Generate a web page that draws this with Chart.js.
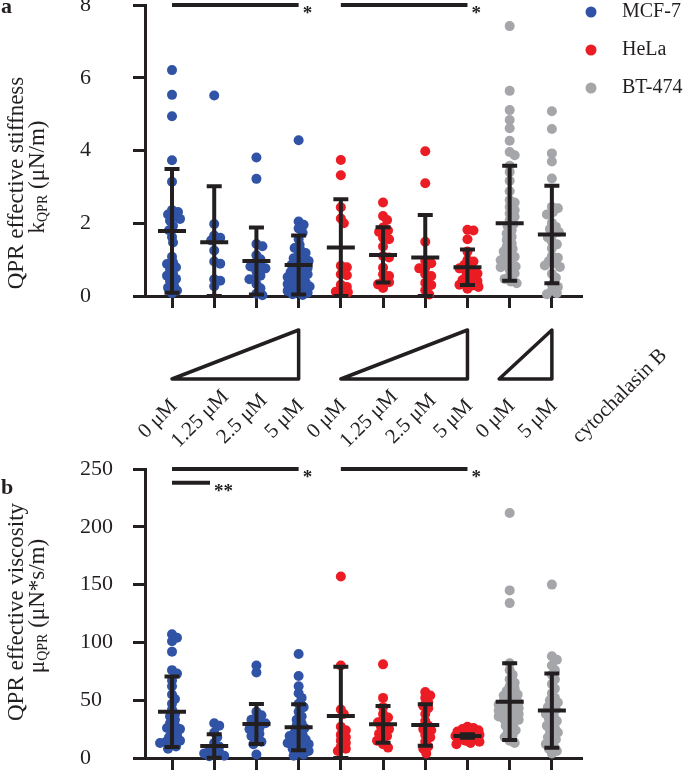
<!DOCTYPE html>
<html>
<head>
<meta charset="utf-8">
<script src="https://cdn.jsdelivr.net/npm/chart.js@4.4.0/dist/chart.umd.min.js"></script>
<style>
  body { margin: 0; background: #fff; }
  #wrap { position: relative; width: 685px; height: 771px; }
  canvas { position: absolute; left: 0; }
  #stiff { top: 0; width: 685px; height: 460px; }
  #visc { top: 460px; width: 685px; height: 311px; }
</style>
</head>
<body>
<div id="wrap">
  <canvas id="stiff" width="685" height="460"></canvas>
  <canvas id="visc" width="685" height="311"></canvas>
</div>
<script>
// groups along the x axis, left to right
const categories = ['0 μM', '1.25 μM', '2.5 μM', '5 μM', '0 μM', '1.25 μM', '2.5 μM', '5 μM', '0 μM', '5 μM'];
const cellLines = ['MCF-7', 'HeLa', 'BT-474'];
const groupLine = [0, 0, 0, 0, 1, 1, 1, 1, 2, 2];

// panel a: effective stiffness k_QPR (uN/m), one array per concentration
const stiffMCF7 = [
  [6.21, 5.53, 4.94, 3.73, 3.14, 2.36, 2.31, 2.24, 2.18, 2.12, 2.07, 1.93, 1.81, 1.62, 1.47, 1.08, 0.93, 0.88, 0.79, 0.74, 0.61, 0.56, 0.47, 0.41, 0.29, 0.23, 0.15, 0.08],
  [5.51, 1.98, 1.66, 1.6, 1.53, 1.25, 0.95, 0.89, 0.46, 0.42, 0.27],
  [3.81, 3.22, 1.43, 1.37, 1.12, 1.01, 0.91, 0.84, 0.81, 0.76, 0.68, 0.56, 0.49, 0.46, 0.33, 0.21, 0.06, 0.02],
  [4.28, 2.05, 1.96, 1.86, 1.74, 1.56, 1.41, 1.32, 1.26, 1.18, 1.11, 1.04, 1.0, 0.96, 0.91, 0.86, 0.8, 0.77, 0.71, 0.66, 0.61, 0.6, 0.55, 0.52, 0.45, 0.41, 0.38, 0.33, 0.29, 0.26, 0.21, 0.19, 0.14, 0.1, 0.09, 0.05, 0.03]
];
const stiffHeLa = [
  [3.74, 3.32, 2.44, 2.13, 2.0, 0.83, 0.79, 0.6, 0.57, 0.31, 0.25, 0.16, 0.12, 0.1],
  [2.57, 2.2, 2.09, 1.88, 1.8, 1.76, 1.6, 1.56, 1.36, 1.1, 1.06, 0.78, 0.6, 0.55, 0.4, 0.38, 0.32, 0.22],
  [3.98, 3.1, 1.49, 0.96, 0.9, 0.78, 0.76, 0.6, 0.55, 0.36, 0.3, 0.16, 0.04],
  [1.82, 1.8, 1.56, 1.22, 0.99, 0.95, 0.86, 0.81, 0.76, 0.71, 0.66, 0.62, 0.56, 0.5, 0.44, 0.41, 0.36, 0.31, 0.29, 0.25, 0.2]
];
const stiffBT474 = [
  [7.42, 5.64, 5.11, 4.84, 4.61, 4.27, 3.96, 3.87, 3.58, 3.41, 3.17, 2.88, 2.64, 2.57, 2.45, 2.36, 2.27, 2.18, 2.09, 1.98, 1.92, 1.81, 1.72, 1.63, 1.54, 1.45, 1.36, 1.3, 1.22, 1.16, 1.08, 1.03, 0.98, 0.93, 0.87, 0.81, 0.79, 0.72, 0.62, 0.55, 0.47, 0.4, 0.35],
  [5.08, 4.59, 3.92, 3.7, 3.23, 2.45, 2.41, 2.3, 2.24, 2.01, 1.9, 1.84, 1.76, 1.7, 1.61, 1.5, 1.42, 1.31, 1.1, 1.05, 0.96, 0.9, 0.84, 0.8, 0.61, 0.5, 0.31, 0.25, 0.15, 0.08, 0.05]
];
const stiffMean = [1.79, 1.48, 0.96, 0.85, 1.33, 1.13, 1.06, 0.79, 2.0, 1.69];
const stiffSD = [1.70, 1.54, 0.92, 0.81, 1.33, 0.76, 1.17, 0.49, 1.58, 1.34];
const stiffTicks = [0, 2, 4, 6, 8];

// panel b: effective viscosity mu_QPR (uN*s/m)
const viscMCF7 = [
  [107, 104, 101, 92, 76, 73, 67, 62, 55, 51, 47, 42, 38, 36, 33, 30, 28, 26, 25, 22, 20, 18, 16, 15, 14, 13, 12, 10, 8],
  [30, 28, 22, 18, 13, 10, 8, 6, 5, 4, 3, 2, 1.5],
  [80, 74, 40, 37, 35, 33, 31, 30, 28, 26, 25, 23, 21, 19, 16, 14, 12, 3],
  [90, 71, 62, 56, 52, 47, 44, 40, 36, 33, 30, 28, 26, 24, 22, 20, 19, 18, 16, 15, 14, 13, 12, 10, 9, 8, 6, 5, 3, 2]
];
const viscHeLa = [
  [157, 80, 42, 38, 27, 24, 20, 18, 15, 13, 10, 8, 6],
  [81, 52, 44, 38, 35, 33, 31, 29, 27, 25, 23, 21, 19, 17, 15, 12, 9],
  [57, 54, 52, 48, 45, 43, 38, 32, 28, 25, 24, 20, 18, 14, 10, 8, 4],
  [27, 26, 25, 24, 23, 22, 21, 20, 20, 19, 18, 17, 16, 15, 14, 13, 12]
];
const viscBT474 = [
  [212, 145, 134, 82, 76, 72, 68, 65, 62, 60, 58, 56, 55, 54, 52, 50, 49, 48, 47, 46, 45, 44, 43, 42, 41, 40, 39, 38, 37, 36, 35, 34, 33, 32, 30, 28, 26, 24, 22, 20, 18, 15, 13],
  [150, 88, 85, 80, 76, 72, 68, 64, 60, 56, 52, 50, 48, 46, 44, 42, 40, 38, 36, 34, 32, 30, 28, 26, 24, 22, 20, 18, 16, 14, 12, 10, 8, 6, 4]
];
const viscMean = [40, 10.4, 29.4, 26.5, 36.3, 29.1, 28.5, 19, 48.7, 41];
const viscSD = [30.4, 10.1, 17.3, 19.9, 42.7, 15.9, 17.9, 1.5, 33.2, 32.2];
const viscTicks = [0, 50, 100, 150, 200, 250];

// significance brackets (group positions, value level, mark)
const stiffSig = [{ from: 1, to: 4, at: 8, mark: '*' }, { from: 5, to: 8, at: 8, mark: '*' }];
const viscSig = [{ from: 1, to: 4, at: 250, mark: '*' }, { from: 1, to: 1.9, at: 238, mark: '**' }, { from: 5, to: 8, at: 250, mark: '*' }];

// concentration ramps under panel a
const ramps = [{ from: 1, to: 4 }, { from: 5, to: 8 }, { from: 8.75, to: 10 }];

const INK = '#231f20';
const dotColors = ['#3053a5', '#ec1c24', '#a5a6a9'];
const SERIF = '"Liberation Serif", "Times New Roman", serif';

function rotatedText(ctx, parts, cx, cy) {
  // parts: [[text, fontSize, shift]]
  ctx.save();
  ctx.translate(cx, cy);
  ctx.rotate(-Math.PI / 2);
  ctx.textBaseline = 'middle';
  ctx.textAlign = 'left';
  let total = 0;
  parts.forEach(p => { ctx.font = p[1] + 'px ' + SERIF; total += ctx.measureText(p[0]).width; });
  let pos = -total / 2;
  parts.forEach(p => {
    ctx.font = p[1] + 'px ' + SERIF;
    ctx.fillText(p[0], pos, p[2]);
    pos += ctx.measureText(p[0]).width;
  });
  ctx.restore();
}

const decor = {
  id: 'decor',
  afterDatasetsDraw(chart, args, o) {
    const { ctx, chartArea: area, scales: { x, y } } = chart;
    ctx.save();
    ctx.strokeStyle = INK;
    ctx.fillStyle = INK;
    ctx.lineWidth = 4;

    // mean +/- SD
    o.means.forEach((m, i) => {
      const cx = x.getPixelForValue(i + 1);
      const yt = y.getPixelForValue(m + o.sds[i]);
      const yb = y.getPixelForValue(Math.max(m - o.sds[i], 0));
      const ym = y.getPixelForValue(m);
      ctx.beginPath();
      ctx.moveTo(cx, yt); ctx.lineTo(cx, yb);
      ctx.moveTo(cx - 7.5, yt); ctx.lineTo(cx + 7.5, yt);
      ctx.moveTo(cx - 7.5, yb); ctx.lineTo(cx + 7.5, yb);
      ctx.moveTo(cx - 14, ym); ctx.lineTo(cx + 14, ym);
      ctx.stroke();
    });

    // significance bars
    ctx.font = 'bold 19px ' + SERIF;
    ctx.textAlign = 'left';
    ctx.textBaseline = 'alphabetic';
    o.sig.forEach(s => {
      const yy = y.getPixelForValue(s.at);
      const x2 = x.getPixelForValue(s.to);
      ctx.beginPath();
      ctx.moveTo(x.getPixelForValue(s.from), yy);
      ctx.lineTo(x2, yy);
      ctx.stroke();
      ctx.fillText(s.mark, x2 + 4, yy + 14);
    });

    // y tick labels
    ctx.font = '22px ' + SERIF;
    ctx.textBaseline = 'middle';
    y.ticks.forEach(t => ctx.fillText(String(t.value), y.left, y.getPixelForValue(t.value)));

    // axis title and panel letter
    rotatedText(ctx, o.title1, 17, o.titleY);
    rotatedText(ctx, o.title2, 38, o.titleY - 6);
    ctx.font = 'bold 22px ' + SERIF;
    ctx.textBaseline = 'alphabetic';
    ctx.fillText(o.letter, 1, o.letterY);

    if (o.extras) {
      // ramps
      ctx.lineWidth = 3.5;
      ctx.lineJoin = 'round';
      const top = area.bottom + 34, bot = area.bottom + 83;
      ramps.forEach(r => {
        const a = x.getPixelForValue(r.from), b = x.getPixelForValue(r.to);
        ctx.beginPath();
        ctx.moveTo(a, bot); ctx.lineTo(b, top); ctx.lineTo(b, bot); ctx.closePath();
        ctx.stroke();
      });
      // concentration labels
      ctx.font = '21px ' + SERIF;
      ctx.textAlign = 'center';
      ctx.textBaseline = 'middle';
      categories.forEach((c, i) => {
        ctx.save();
        ctx.translate(x.getPixelForValue(i + 1) - 14, area.bottom + 123);
        ctx.rotate(-Math.PI / 4);
        ctx.fillText(c, 0, 0);
        ctx.restore();
      });
      ctx.save();
      ctx.translate(x.getPixelForValue(10) + 68, area.bottom + 100);
      ctx.rotate(-Math.PI / 4);
      ctx.fillText('cytochalasin B', 0, 0);
      ctx.restore();
      // legend
      ctx.font = '20px ' + SERIF;
      ctx.textAlign = 'left';
      cellLines.forEach((name, i) => {
        const ly = 12 + i * 38;
        ctx.fillStyle = dotColors[i];
        ctx.beginPath();
        ctx.arc(591, ly, 5.5, 0, Math.PI * 2);
        ctx.fill();
        ctx.fillStyle = INK;
        ctx.fillText(name, 622, ly);
      });
    }
    ctx.restore();
  }
};

function axisLook() {
  return {
    ticks: { display: false },
    grid: { display: true, drawOnChartArea: false, drawTicks: true, tickLength: 12, color: INK, lineWidth: 3 },
    border: { display: true, color: INK, width: 3 }
  };
}

function makeChart(id, cfg) {
  return new Chart(document.getElementById(id), {
    type: 'scatter',
    data: {
      datasets: cellLines.map((name, li) => ({
        label: name, data: [], backgroundColor: dotColors[li],
        pointRadius: 5, pointHoverRadius: 5, borderWidth: 0, clip: false
      }))
    },
    options: {
      responsive: false,
      animation: false,
      events: [],
      layout: { padding: cfg.padding },
      plugins: { legend: { display: false }, tooltip: { enabled: false }, decor: cfg.decor },
      scales: {
        x: Object.assign(axisLook(), {
          type: 'linear', min: 0.36, max: 10.69,
          afterBuildTicks: s => { s.ticks = categories.map((c, i) => ({ value: i + 1 })); },
          afterFit: s => { s.height = 12; }
        }),
        y: Object.assign(axisLook(), {
          type: 'linear', min: 0, max: cfg.yTicks[cfg.yTicks.length - 1],
          afterBuildTicks: s => { s.ticks = cfg.yTicks.map(v => ({ value: v })); },
          afterFit: s => { s.width = 65; }
        })
      }
    },
    plugins: [decor]
  });
}

// spread dots of one group sideways so they do not pile up (beeswarm)
function placeDots(chart, groups) {
  const { x, y } = chart.scales;
  const unit = x.getPixelForValue(2) - x.getPixelForValue(1);
  const minD = 5.5, maxOff = 12;
  chart.data.datasets.forEach(ds => { ds.data = []; });
  groups.forEach((vals, gi) => {
    const placed = [];
    vals.forEach(v => {
      const py = y.getPixelForValue(v);
      let best = 0, bestGap = -1;
      for (let k = 0; k <= maxOff * 2; k++) {
        const dx = (k % 2 ? 1 : -1) * Math.ceil(k / 2);
        let gap = Infinity;
        placed.forEach(p => { gap = Math.min(gap, Math.hypot(dx - p.dx, py - p.py)); });
        if (gap >= minD) { best = dx; bestGap = gap; break; }
        if (gap > bestGap) { best = dx; bestGap = gap; }
      }
      placed.push({ dx: best, py });
      chart.data.datasets[groupLine[gi]].data.push({ x: gi + 1 + best / unit, y: v });
    });
  });
  chart.update('none');
}

const stiffChart = makeChart('stiff', {
  padding: { left: 80, top: 5, right: 104, bottom: 152 },
  yTicks: stiffTicks,
  decor: {
    means: stiffMean, sds: stiffSD, sig: stiffSig, extras: true,
    letter: 'a', letterY: 13, titleY: 183,
    title1: [['QPR effective stiffness', 23, 0]],
    title2: [['k', 23, 0], ['QPR', 14, 5], [' (μN/m)', 23, 0]]
  }
});
placeDots(stiffChart, [].concat(stiffMCF7, stiffHeLa, stiffBT474));

const viscChart = makeChart('visc', {
  padding: { left: 80, top: 9, right: 104, bottom: 1 },
  yTicks: viscTicks,
  decor: {
    means: viscMean, sds: viscSD, sig: viscSig, extras: false,
    letter: 'b', letterY: 34, titleY: 152,
    title1: [['QPR effective viscosity', 23, 0]],
    title2: [['μ', 23, 0], ['QPR', 14, 5], [' (μN*s/m)', 23, 0]]
  }
});
placeDots(viscChart, [].concat(viscMCF7, viscHeLa, viscBT474));
</script>
</body>
</html>
